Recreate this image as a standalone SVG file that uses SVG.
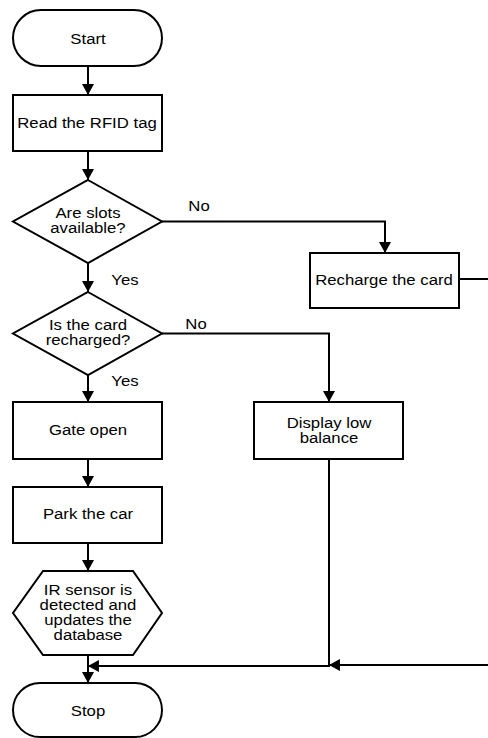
<svg xmlns="http://www.w3.org/2000/svg" width="488" height="738" viewBox="0 0 488 738">
<defs>
<marker id="ah" markerUnits="userSpaceOnUse" markerWidth="12" markerHeight="12" viewBox="0 0 10 11" refX="10" refY="5.5" orient="auto">
<path d="M0,0 L10,5.5 L0,11 z" fill="#000"/>
</marker>
</defs>
<style>
.s{fill:#fff;stroke:#000;stroke-width:2}
.t{font-family:"Liberation Sans",Arial,sans-serif;font-size:15.5px;fill:#000;text-anchor:middle;dominant-baseline:central}
.c{fill:none;stroke:#000;stroke-width:2}
.a{marker-end:url(#ah)}
</style>
<rect width="488" height="738" fill="#fff"/>
<g id="connectors">
<path class="c a" d="M88,66 V95"/>
<path class="c a" d="M88,151 V180"/>
<path class="c a" d="M162,221.5 H385 V253"/>
<path class="c a" d="M88,263 V292"/>
<path class="c a" d="M162,333.5 H329 V402"/>
<path class="c a" d="M88,375 V402"/>
<path class="c a" d="M88,459 V487"/>
<path class="c a" d="M88,543 V571"/>
<path class="c a" d="M88,655 V683"/>
<path class="c a" d="M459,279 H495 V665 H329"/>
<path class="c a" d="M329,459 V666 H88"/>
<g transform="translate(199 0) scale(1.08 1)"><text class="t" x="0" y="205">No</text></g>
<g transform="translate(125 0) scale(1.08 1)"><text class="t" x="0" y="279">Yes</text></g>
<g transform="translate(196 0) scale(1.08 1)"><text class="t" x="0" y="323">No</text></g>
<g transform="translate(125 0) scale(1.08 1)"><text class="t" x="0" y="380">Yes</text></g>
</g>
<g id="start"><rect class="s" x="13" y="10" width="149" height="56" rx="28"/><g transform="translate(88 0) scale(1.08 1)"><text class="t" x="0" y="38">Start</text></g></g>
<g id="read"><rect class="s" x="13" y="95" width="149" height="56"/><g transform="translate(87 0) scale(1.08 1)"><text class="t" x="0" y="122">Read the RFID tag</text></g></g>
<g id="slots"><polygon class="s" points="88,180 162,221.5 88,263 13,221.5"/><g transform="translate(88 0) scale(1.08 1)"><text class="t" x="0" y="212">Are slots</text><text class="t" x="0" y="227">available?</text></g></g>
<g id="recharge"><rect class="s" x="310" y="253" width="149" height="55"/><g transform="translate(384 0) scale(1.08 1)"><text class="t" x="0" y="279">Recharge the card</text></g></g>
<g id="recharged"><polygon class="s" points="88,292 162,333.5 88,375 13,333.5"/><g transform="translate(88 0) scale(1.08 1)"><text class="t" x="0" y="324">Is the card</text><text class="t" x="0" y="339">recharged?</text></g></g>
<g id="gate"><rect class="s" x="13" y="402" width="149" height="57"/><g transform="translate(88 0) scale(1.08 1)"><text class="t" x="0" y="429">Gate open</text></g></g>
<g id="display"><rect class="s" x="254" y="402" width="149" height="57"/><g transform="translate(329 0) scale(1.08 1)"><text class="t" x="0" y="422">Display low</text><text class="t" x="0" y="437">balance</text></g></g>
<g id="park"><rect class="s" x="13" y="487" width="149" height="56"/><g transform="translate(88 0) scale(1.08 1)"><text class="t" x="0" y="513">Park the car</text></g></g>
<g id="sensor"><polygon class="s" points="43,571 133,571 162,613 133,655 43,655 13,613"/><g transform="translate(88 0) scale(1.08 1)"><text class="t" x="0" y="589">IR sensor is</text><text class="t" x="0" y="604">detected and</text><text class="t" x="0" y="619">updates the</text><text class="t" x="0" y="634">database</text></g></g>
<g id="stop"><rect class="s" x="13" y="683" width="149" height="54" rx="27"/><g transform="translate(88 0) scale(1.08 1)"><text class="t" x="0" y="710">Stop</text></g></g>
</svg>
